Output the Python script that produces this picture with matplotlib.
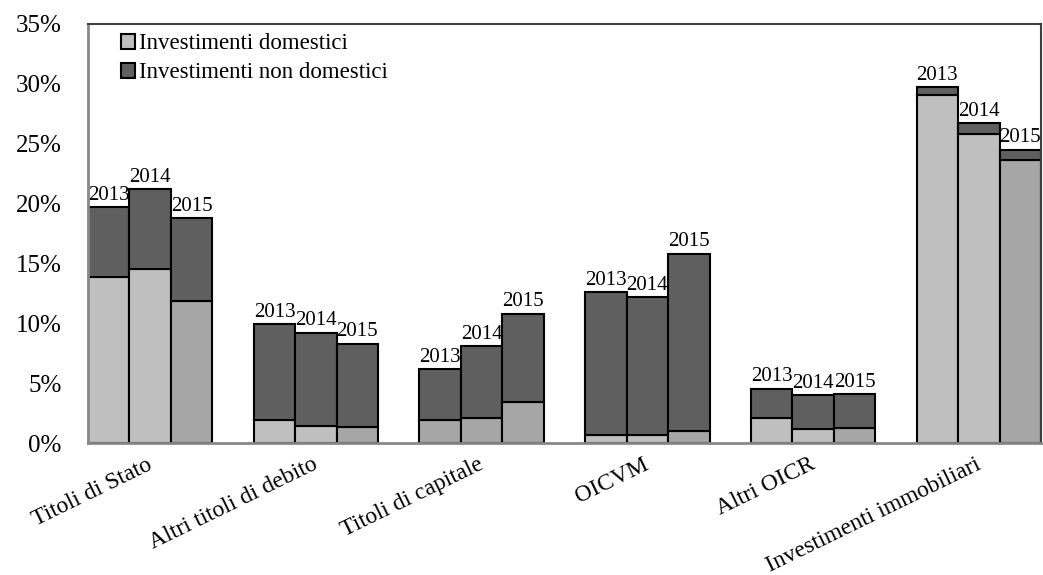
import numpy as np
import matplotlib.pyplot as plt

plt.rcParams['font.family'] = ['Liberation Serif', 'DejaVu Serif']

categories = ['Titoli di Stato', 'Altri titoli di debito', 'Titoli di capitale',
              'OICVM', 'Altri OICR', 'Investimenti immobiliari']
years = ['2013', '2014', '2015']

# quota percentuale per anno (righe = categorie, colonne = 2013, 2014, 2015)
domestici = np.array([
    [13.9, 14.5, 11.9],
    [1.9, 1.45, 1.36],
    [1.89, 2.08, 3.45],
    [0.67, 0.67, 0.97],
    [2.06, 1.17, 1.22],
    [29.1, 25.8, 23.6],
])
totale = np.array([
    [19.7, 21.2, 18.8],
    [9.9, 9.2, 8.3],
    [6.17, 8.1, 10.8],
    [12.6, 12.2, 15.8],
    [4.55, 4.0, 4.08],
    [29.7, 26.7, 24.5],
])
non_domestici = totale - domestici

light = '#bfbfbf'
mid = '#a6a6a6'
dark = '#5f5f5f'

fig = plt.figure(figsize=(10.43, 5.75), dpi=100)
ax = fig.add_axes([88 / 1043, 1 - 443 / 575, (1041 - 88) / 1043, (443 - 24) / 575])

n_years = len(years)
for i, cat in enumerate(categories):
    for j in range(n_years):
        x = i * (n_years + 1) + j
        c = mid if (j == 2 or cat == 'Titoli di capitale') else light
        ax.bar(x, domestici[i, j], width=1.0, color=c, edgecolor='black', linewidth=1.5,
               label='Investimenti domestici' if (i == 0 and j == 0) else None)
        ax.bar(x, non_domestici[i, j], bottom=domestici[i, j], width=1.0, color=dark,
               edgecolor='black', linewidth=1.5,
               label='Investimenti non domestici' if (i == 0 and j == 0) else None)
        ax.text(x, totale[i, j] + 0.2, years[j], ha='center', va='bottom', fontsize=15)

centers = [i * (n_years + 1) + 1 for i in range(len(categories))]
ax.set_xlim(-0.5, len(categories) * (n_years + 1) - 1.5)
ax.set_ylim(0, 35)
ax.set_yticks(np.arange(0, 36, 5))
ax.set_yticklabels([f'{v}%' for v in range(0, 36, 5)], fontsize=18)
ax.tick_params(axis='y', length=0, pad=19)
ax.set_xticks([])

for i, cat in enumerate(categories):
    ax.annotate(cat, xy=(centers[i], 0), xycoords=('data', 'axes fraction'),
                xytext=(-3, -8), textcoords='offset points',
                ha='right', va='top', rotation=26, rotation_mode='anchor', fontsize=17)

for s in ['left', 'bottom']:
    ax.spines[s].set_color('#888888')
    ax.spines[s].set_linewidth(2)
for s in ['top', 'right']:
    ax.spines[s].set_color('#404040')
    ax.spines[s].set_linewidth(1.5)

ax.legend(loc='upper left', bbox_to_anchor=(0.013, 1.027), frameon=False, fontsize=16.5,
          handlelength=0.6, handleheight=0.6, handletextpad=0.2, labelspacing=0.35)

fig.savefig('out.png', dpi=100)
